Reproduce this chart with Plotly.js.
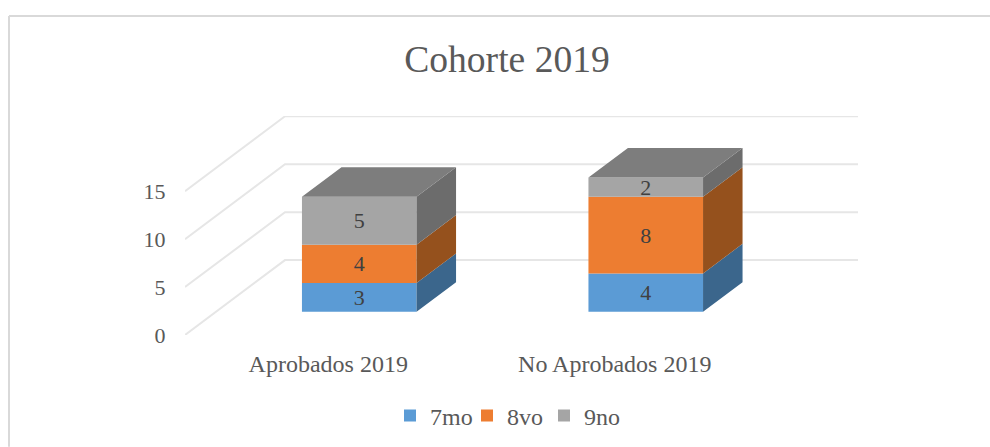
<!DOCTYPE html>
<html>
<head>
<meta charset="utf-8">
<script src="https://cdn.plot.ly/plotly-3.0.1.min.js"></script>
<style>html,body{margin:0;padding:0;background:#fff}#chart{width:990px;height:447px}</style>
</head>
<body>
<div id="chart"></div>
<script>
// --- Data ---
const categories = ['Aprobados 2019', 'No Aprobados 2019'];
const seriesNames = ['7mo', '8vo', '9no'];
const values7mo = [3, 4];
const values8vo = [4, 8];
const values9no = [5, 2];
const yTicks = [0, 5, 10, 15];

// --- Styles ---
const frontColors = ['#5b9bd5', '#ed7d31', '#a5a5a5'];
const sideColors = ['#3b668c', '#95511d', '#6c6c6c'];
const topColor = '#7d7d7d';
const serif = '"Liberation Serif", serif';

// --- Layout geometry of the plot box (px) ---
const W = 990, H = 447;
const boxL = 185, boxR = 858, boxT = 115.7, boxB = 335;
const catPx = 286.5, unitPx = 9.6;
const xMin = -0.5, xMax = xMin + (boxR - boxL) / catPx;
const yMax = (boxB - boxT) / unitPx;
// Full depth of the floor, as axis units
const depthX = 100 / catPx, depthY = 75 / unitPx;
const barFront = 0.31, barBack = 0.705, halfBar = 0.2;
const labelNudge = 2 / unitPx;

const series = [values7mo, values8vo, values9no];
const cumulative = categories.map((_, c) => {
  let s = 0; return series.map(v => { const b = s; s += v[c]; return [b, s]; });
});
const proj = (x, v, d) => [x + d * depthX, v + d * depthY];

// Receding gridlines on floor/side wall and back wall
const shapes = yTicks.map(v => {
  const a = proj(xMin, v, 0), b = proj(xMin, v, 1), c = [xMax, b[1]];
  return {type: 'path', layer: 'below', xref: 'x', yref: 'y',
    path: `M${a[0]},${a[1]} L${b[0]},${b[1]} L${c[0]},${c[1]}`,
    line: {color: '#e6e6e6', width: 2}};
});
// Chart-area border (top and left only are visible)
const px = x => (x - boxL) / (boxR - boxL), py = y => (boxB - y) / (boxB - boxT);
shapes.push({type: 'line', xref: 'paper', yref: 'paper', x0: px(9), x1: px(W), y0: py(15.5), y1: py(15.5), line: {color: '#d9d9d9', width: 2}});
shapes.push({type: 'line', xref: 'paper', yref: 'paper', x0: px(9), x1: px(9), y0: py(15.5), y1: py(H), line: {color: '#d9d9d9', width: 2}});

// Front faces: real bars
const barX = categories.map((_, c) => proj(c, 0, barFront)[0]);
const barOffset = proj(0, 0, barFront)[1];
const traces = series.map((vals, s) => ({
  type: 'bar', name: seriesNames[s], x: barX, y: vals,
  base: categories.map((_, c) => cumulative[c][s][0] + barOffset),
  width: halfBar * 2, marker: {color: frontColors[s], line: {width: 0}},
  hoverinfo: 'skip'
}));

// Side faces
series.forEach((vals, s) => {
  const xs = [], ys = [];
  categories.forEach((_, c) => {
    const [b, t] = cumulative[c][s];
    const r = c + halfBar;
    [proj(r, b, barFront), proj(r, b, barBack), proj(r, t, barBack), proj(r, t, barFront), proj(r, b, barFront)]
      .forEach(p => { xs.push(p[0]); ys.push(p[1]); });
    xs.push(null); ys.push(null);
  });
  traces.push({type: 'scatter', mode: 'lines', x: xs, y: ys, fill: 'toself', fillcolor: sideColors[s],
    line: {width: 0, color: sideColors[s]}, showlegend: false, hoverinfo: 'skip'});
});
// Top faces
{
  const xs = [], ys = [];
  categories.forEach((_, c) => {
    const t = cumulative[c][series.length - 1][1];
    const l = c - halfBar, r = c + halfBar;
    [proj(l, t, barFront), proj(r, t, barFront), proj(r, t, barBack), proj(l, t, barBack), proj(l, t, barFront)]
      .forEach(p => { xs.push(p[0]); ys.push(p[1]); });
    xs.push(null); ys.push(null);
  });
  traces.push({type: 'scatter', mode: 'lines', x: xs, y: ys, fill: 'toself', fillcolor: topColor,
    line: {width: 0, color: topColor}, showlegend: false, hoverinfo: 'skip'});
}
// Data labels, centred on each front face
series.forEach((vals, s) => {
  traces.push({type: 'scatter', mode: 'text', x: barX,
    y: vals.map((v, c) => (cumulative[c][s][0] + cumulative[c][s][1]) / 2 + barOffset - labelNudge),
    text: vals.map(String), textposition: 'middle center',
    textfont: {family: serif, size: 22, color: '#404040'},
    showlegend: false, hoverinfo: 'skip'});
});

const layout = {
  width: W, height: H,
  paper_bgcolor: '#fff', plot_bgcolor: 'rgba(0,0,0,0)',
  margin: {l: boxL, r: W - boxR, t: boxT, b: H - boxB, pad: 0, autoexpand: false},
  barmode: 'overlay',
  showlegend: true,
  title: {text: 'Cohorte 2019', font: {family: serif, size: 37.6, color: '#595959'},
    x: 507 / W, xanchor: 'center', y: 1 - 59 / H, yanchor: 'middle'},
  xaxis: {range: [xMin, xMax], tickmode: 'array', tickvals: [0, 1], ticktext: categories,
    showgrid: false, zeroline: false, showline: false, ticks: 'outside', ticklen: 7, tickcolor: 'rgba(0,0,0,0)',
    tickfont: {family: serif, size: 24, color: '#595959'}, fixedrange: true},
  yaxis: {range: [0, yMax], tickmode: 'array', tickvals: yTicks, ticktext: yTicks.map(String),
    showgrid: false, zeroline: false, showline: false, ticks: 'outside', ticklen: 14, tickcolor: 'rgba(0,0,0,0)',
    tickfont: {family: serif, size: 22, color: '#595959'}, fixedrange: true},
  legend: {orientation: 'h', x: px(390), xanchor: 'left', y: py(416), yanchor: 'middle',
    entrywidth: 32, entrywidthmode: 'pixels',
    font: {family: serif, size: 24, color: '#595959'}, bgcolor: 'rgba(0,0,0,0)', itemclick: false, itemdoubleclick: false,
    traceorder: 'normal'},
  shapes: shapes
};
Plotly.newPlot('chart', traces, layout, {displayModeBar: false, staticPlot: true});
</script>
</body>
</html>
